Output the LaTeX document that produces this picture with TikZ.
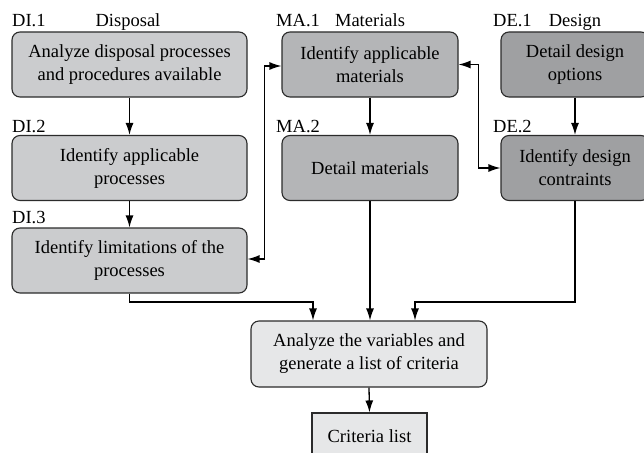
\documentclass[tikz,border=0pt]{standalone}
\usepackage{fontspec}
\setmainfont{Liberation Serif}
\usetikzlibrary{arrows.meta,calc}
\definecolor{diC}{HTML}{CBCCCE}
\definecolor{maC}{HTML}{B4B5B7}
\definecolor{deC}{HTML}{9FA0A2}
\definecolor{anC}{HTML}{E6E7E8}
\definecolor{edgeC}{HTML}{2B2B2B}
\tikzset{
  box/.style={draw=edgeC, line width=1.1pt, rounded corners=8pt, align=center,
    inner sep=0pt, font=\fontsize{18.5}{23}\selectfont},
  dibox/.style={box, fill=diC, minimum width=235pt, minimum height=65pt},
  mabox/.style={box, fill=maC, minimum width=176pt, minimum height=65pt},
  debox/.style={box, fill=deC, minimum width=148pt, minimum height=65pt},
  lbl/.style={font=\fontsize{18.5}{23}\selectfont, inner sep=0pt, anchor=base west},
  ttl/.style={font=\fontsize{18.5}{23}\selectfont, inner sep=0pt, anchor=base},
  arr/.style={line width=1.3pt, -{Latex[length=12pt,width=8pt]}},
  biarr/.style={line width=1.3pt, {Latex[length=12pt,width=8pt]}-{Latex[length=12pt,width=8pt]}},
}
\begin{document}
\begin{tikzpicture}[x=1pt,y=-1pt]
\useasboundingbox (0,0) rectangle (644,452);
\clip (0,0) rectangle (644,452);
% boxes
\node[dibox] (di1) at (129.5,64.5) {Analyze disposal processes\\and procedures available};
\node[dibox] (di2) at (129.5,168) {Identify applicable\\processes};
\node[dibox] (di3) at (129.5,260.5) {Identify limitations of the\\processes};
\node[mabox] (ma1) at (370,64.5) {Identify applicable\\materials};
\node[mabox] (ma2) at (370,168) {Detail materials};
\node[debox] (de1) at (575,64.5) {Detail design\\options};
\node[debox] (de2) at (575,168) {Identify design\\contraints};
\node[box, fill=anC, minimum width=236pt, minimum height=66pt] (an) at (369,354) {Analyze the variables and\\generate a list of criteria};
\node[draw=edgeC, line width=1.1pt, fill=anC, minimum width=115pt, minimum height=46pt, inner sep=0pt,
  font=\fontsize{18.5}{23}\selectfont] (cl) at (369.5,436) {Criteria list};
% labels
\node[lbl] (l1) at (12,27) {DI.1};
\node[ttl] (t1) at (128,27) {Disposal};
\node[lbl] (l2) at (12,132) {DI.2};
\node[lbl] (l3) at (12,223) {DI.3};
\node[lbl] (l4) at (276,27) {MA.1};
\node[ttl] (t2) at (370,27) {Materials};
\node[lbl] (l5) at (276,132) {MA.2};
\node[lbl] (l6) at (493,27) {DE.1};
\node[ttl] (t3) at (575,27) {Design};
\node[lbl] (l7) at (493,132) {DE.2};
% connectors
\coordinate (jn) at (0,302);
\draw[arr] (di1) -- (di2);
\draw[arr] (di2) -- (di3);
\draw[arr] (ma1) -- (ma2);
\draw[arr] (de1) -- (de2);
\draw[biarr] ([yshift=1.5pt]di3.east) -- ++(17,0) |- ([yshift=-1.5pt]ma1.west);
\draw[biarr] (ma1.east) -- ++(20,0) |- (de2.west);
\draw[arr] (di3.south) -- (di3.south |- jn) -| ([xshift=-56pt]an.north);
\draw[arr] (ma2.south) -- (ma2.south |- an.north);
\draw[arr] (de2.south) -- (de2.south |- jn) -| ([xshift=46pt]an.north);
\draw[arr] (an.south) -- (cl.north);
\end{tikzpicture}
\end{document}
